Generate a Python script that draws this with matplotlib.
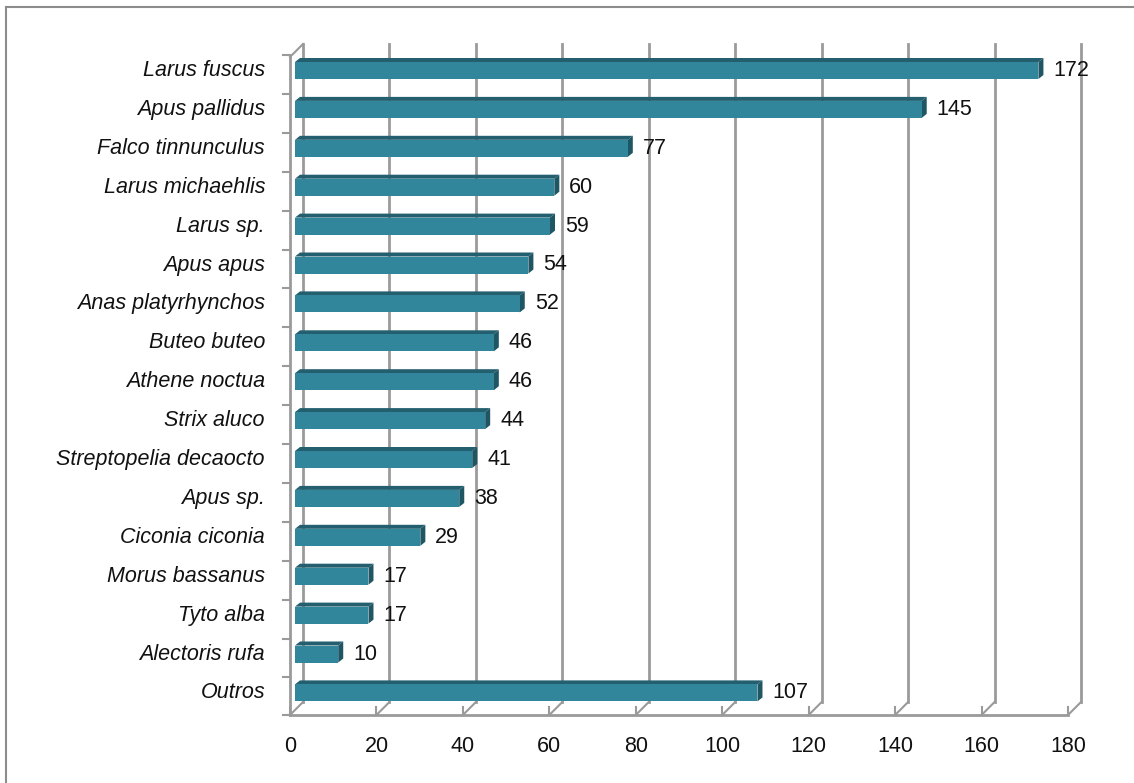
import matplotlib
matplotlib.use("Agg")
import matplotlib.pyplot as plt
from matplotlib.patches import Polygon

species = ["Larus fuscus", "Apus pallidus", "Falco tinnunculus", "Larus michaehlis",
           "Larus sp.", "Apus apus", "Anas platyrhynchos", "Buteo buteo",
           "Athene noctua", "Strix aluco", "Streptopelia decaocto", "Apus sp.",
           "Ciconia ciconia", "Morus bassanus", "Tyto alba", "Alectoris rufa", "Outros"]
counts = [172, 145, 77, 60, 59, 54, 52, 46, 46, 44, 41, 38, 29, 17, 17, 10, 107]
x_ticks = [0, 20, 40, 60, 80, 100, 120, 140, 160, 180]

W, H = 1134, 783
FRONT, TOP, SIDE = "#31869C", "#235F6E", "#1F5664"
GRID = "#9A9A9A"

fig = plt.figure(figsize=(W / 100, H / 100), dpi=100)
plt.rcParams["font.family"] = ["Liberation Sans", "DejaVu Sans"]

# axes spanning the front floor (x) and the row area (y), in pixels
px_left, px_right = 290, 1068
px_top, px_floor = 51, 715
row0, row_step = 70.5, 38.9
ax = fig.add_axes([px_left / W, (H - px_floor) / H, (px_right - px_left) / W, (px_floor - px_top) / H])
ax.set_xlim(0, 180)
ax.set_ylim((px_floor - row0) / row_step, (px_top - row0) / row_step)
ax.axis("off")

ux = (px_right - px_left) / 180  # px per unit
dx = 13 / ux                     # depth offset in data units
dy = 13 / row_step

# back wall gridlines + floor diagonals
back_top = (44 - row0) / row_step
floor_y = (px_floor - row0) / row_step
for v in x_ticks:
    ax.plot([v + dx, v + dx], [floor_y - dy, back_top], color=GRID, lw=2.0, clip_on=False, zorder=1)
    ax.plot([v, v + dx], [floor_y, floor_y - dy], color=GRID, lw=1.5, clip_on=False, zorder=1)
    ax.plot([v, v], [floor_y, floor_y - 8 / row_step], color=GRID, lw=1.5, clip_on=False, zorder=1)
    ax.text(v, (747 - row0) / row_step, str(v), ha="center", va="center", fontsize=15.5, color="#111111")

# front floor line and left wall
ax.plot([0, 180], [floor_y, floor_y], color=GRID, lw=2.0, clip_on=False, zorder=1)
left_top = (57 - row0) / row_step
ax.plot([0, 0], [floor_y, left_top], color=GRID, lw=2.0, clip_on=False, zorder=1)
ax.plot([0, dx], [left_top, left_top - dy], color=GRID, lw=1.5, clip_on=False, zorder=1)
for k in range(len(species) + 1):
    yb = (55 + k * row_step - row0) / row_step
    if yb > floor_y:
        yb = floor_y
    ax.plot([-7 / ux, 0], [yb, yb], color=GRID, lw=1.5, clip_on=False, zorder=1)

# bars with a pseudo-3D look
x0 = 5 / ux
bh = 17 / row_step
ddx = 5 / ux
ddy = 4 / row_step
for i, (name, v) in enumerate(zip(species, counts)):
    yt, yb = i - bh / 2, i + bh / 2
    x1 = x0 + v
    ax.add_patch(Polygon([(x0, yt), (x1, yt), (x1 + ddx, yt - ddy), (x0 + ddx, yt - ddy)],
                         closed=True, fc=TOP, ec="none", zorder=3))
    ax.add_patch(Polygon([(x1, yt), (x1 + ddx, yt - ddy), (x1 + ddx, yb - ddy), (x1, yb)],
                         closed=True, fc=SIDE, ec="none", zorder=3))
    ax.add_patch(Polygon([(x0, yt), (x1, yt), (x1, yb), (x0, yb)],
                         closed=True, fc=FRONT, ec="none", zorder=4))
    ax.text(x1 + ddx + 10 / ux, i, str(v), ha="left", va="center", fontsize=15.5,
            color="#111111", zorder=5)
    ax.text(-25 / ux, i, name, ha="right", va="center", fontsize=15.5,
            style="italic", color="#111111")

# outer frame (top and left visible)
fig.add_artist(plt.Line2D([6 / W, 1], [1 - 7 / H, 1 - 7 / H], color="#8C8C8C", lw=1.5))
fig.add_artist(plt.Line2D([6 / W, 6 / W], [0, 1 - 7 / H], color="#8C8C8C", lw=1.5))

fig.savefig("out.png", dpi=100)
